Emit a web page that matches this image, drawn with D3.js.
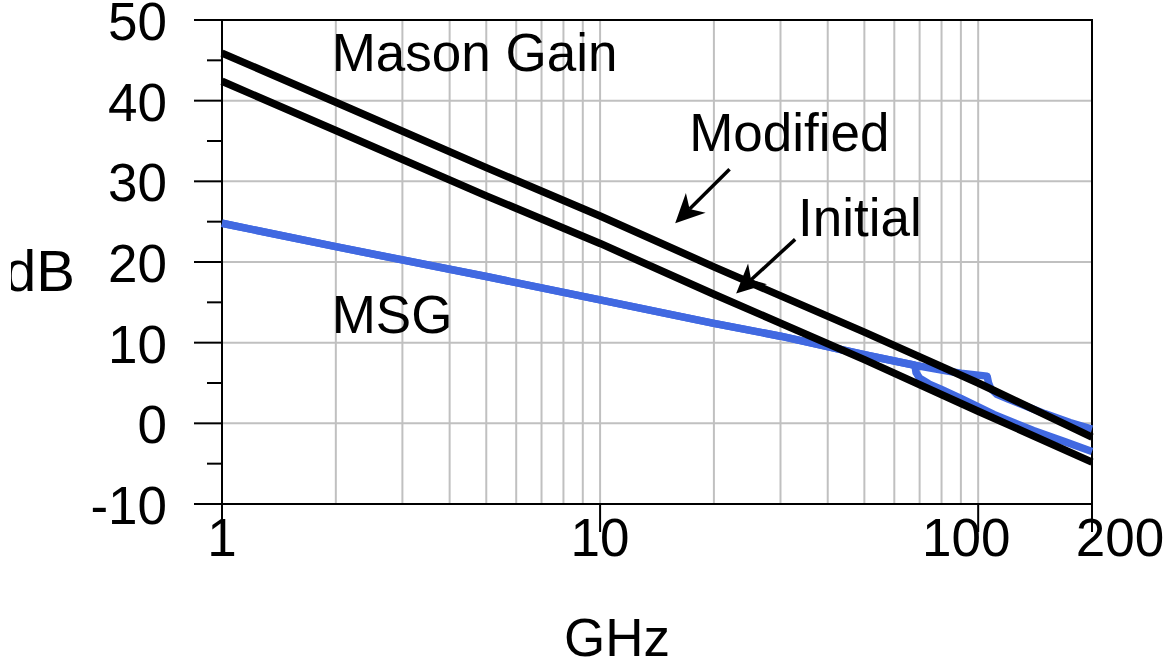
<!DOCTYPE html>
<html>
<head>
<meta charset="utf-8">
<script src="https://cdn.jsdelivr.net/npm/d3@7"></script>
<style>
  body { margin: 0; background: #fff; }
  svg { display: block; }
  text { font-family: "Liberation Sans", Arial, sans-serif; font-size: 53px; fill: #000; }
</style>
</head>
<body>
<div id="chart"></div>
<script>
// Mason's unilateral gain, straight lines (dB vs GHz)
var masonFreq = [1, 2, 5, 10, 20, 50, 100, 200];
var masonModified = [45.9, 39.8, 31.7, 25.7, 19.4, 11.3, 5.0, -1.7];
var masonInitial = [42.4, 36.3, 28.2, 22.3, 16.0, 7.9, 1.5, -4.8];

// MSG shared by both devices until the first K=1 point
var msgFreq = [1, 2, 5, 10, 20, 30, 50, 68];
var msgDb = [24.8, 21.9, 18.2, 15.3, 12.4, 10.8, 8.5, 7.2];

// initial device turns into MAG at ~68 GHz
var magInitialFreq = [68.5, 70, 74, 80, 90, 110, 140, 170, 200];
var magInitialDb = [6.3, 5.6, 4.9, 4.2, 3.1, 1.1, -0.9, -2.3, -3.5];

// modified device stays on MSG up to ~106 GHz
var msgModifiedFreq = [80, 90, 105.6];
var msgModifiedDb = [6.6, 6.2, 5.85];
var magModifiedFreq = [106.5, 108, 112, 120, 131, 150, 175, 200];
var magModifiedDb = [5.0, 4.3, 3.6, 3.0, 2.3, 1.2, 0.1, -0.7];

var xTicks = [1, 10, 100, 200];
var xGrid = [2, 3, 4, 5, 6, 7, 8, 9, 10, 20, 30, 40, 50, 60, 70, 80, 90, 100];
var yTicks = [-10, 0, 10, 20, 30, 40, 50];
var yMinor = [-5, 5, 15, 25, 35, 45];

var width = 1165, height = 665;
var margin = {top: 20, right: 73, bottom: 161, left: 222};

var x = d3.scaleLog().domain([1, 200]).range([margin.left, width - margin.right]);
var y = d3.scaleLinear().domain([-10, 50]).range([height - margin.bottom, margin.top]);

var svg = d3.select('#chart').append('svg')
  .attr('width', width)
  .attr('height', height);

svg.append('rect').attr('width', width).attr('height', height).attr('fill', '#fff');

// the y label is cut on its left side in the original
svg.append('clipPath').attr('id', 'ylabel-clip')
  .append('rect').attr('x', 11).attr('y', 0).attr('width', 200).attr('height', height);

var zip = function(fs, vs) {
  return fs.map(function(f, i) { return [f, vs[i]]; });
};

// grid
svg.append('g').selectAll('line')
  .data(xGrid)
  .enter().append('line')
  .attr('x1', function(d) { return x(d); })
  .attr('x2', function(d) { return x(d); })
  .attr('y1', y(50))
  .attr('y2', y(-10))
  .attr('stroke', '#c0c0c0')
  .attr('stroke-width', 2);

svg.append('g').selectAll('line')
  .data(yTicks.slice(1, -1))
  .enter().append('line')
  .attr('x1', x(1))
  .attr('x2', x(200))
  .attr('y1', function(d) { return y(d); })
  .attr('y2', function(d) { return y(d); })
  .attr('stroke', '#c0c0c0')
  .attr('stroke-width', 2);

// frame: top and right edges
svg.append('path')
  .attr('d', 'M' + (x(1) - 28) + ',' + y(50) + 'H' + x(200) + 'V' + y(-10))
  .attr('fill', 'none')
  .attr('stroke', '#000')
  .attr('stroke-width', 2);

// y axis
var yAxis = svg.append('g');
yAxis.append('line')
  .attr('x1', x(1)).attr('x2', x(1))
  .attr('y1', y(50)).attr('y2', y(-10) + 28)
  .attr('stroke', '#000').attr('stroke-width', 2);
yAxis.selectAll('.major')
  .data(yTicks)
  .enter().append('line')
  .attr('class', 'major')
  .attr('x1', x(1) - 28).attr('x2', x(1))
  .attr('y1', function(d) { return y(d); })
  .attr('y2', function(d) { return y(d); })
  .attr('stroke', '#000').attr('stroke-width', 2);
yAxis.selectAll('.minor')
  .data(yMinor)
  .enter().append('line')
  .attr('class', 'minor')
  .attr('x1', x(1) - 15).attr('x2', x(1))
  .attr('y1', function(d) { return y(d); })
  .attr('y2', function(d) { return y(d); })
  .attr('stroke', '#000').attr('stroke-width', 2);
yAxis.selectAll('text')
  .data(yTicks)
  .enter().append('text')
  .attr('x', x(1) - 55)
  .attr('y', function(d) { return y(d) + 20; })
  .attr('text-anchor', 'end')
  .text(function(d) { return d; });

// x axis
var xAxis = svg.append('g');
xAxis.append('line')
  .attr('x1', x(1) - 28).attr('x2', x(200))
  .attr('y1', y(-10)).attr('y2', y(-10))
  .attr('stroke', '#000').attr('stroke-width', 2);
xAxis.selectAll('line.tick')
  .data(xTicks)
  .enter().append('line')
  .attr('class', 'tick')
  .attr('x1', function(d) { return x(d); })
  .attr('x2', function(d) { return x(d); })
  .attr('y1', y(-10)).attr('y2', y(-10) + 28)
  .attr('stroke', '#000').attr('stroke-width', 2);
xAxis.selectAll('text')
  .data(xTicks)
  .enter().append('text')
  .attr('x', function(d) { return x(d) + (d === 200 ? 28 : (d === 100 ? -12 : 0)); })
  .attr('y', y(-10) + 52)
  .attr('text-anchor', 'middle')
  .text(function(d) { return d; });

svg.append('text')
  .attr('x', 617)
  .attr('y', 656)
  .attr('text-anchor', 'middle')
  .text('GHz');

svg.append('text')
  .attr('x', 75)
  .attr('y', 291)
  .attr('text-anchor', 'end')
  .attr('clip-path', 'url(#ylabel-clip)')
  .style('font-size', '58px')
  .text('dB');

// curves
var line = d3.line()
  .x(function(d) { return x(d[0]); })
  .y(function(d) { return y(d[1]); });

var blueInitial = zip(msgFreq, msgDb).concat(zip(magInitialFreq, magInitialDb));
var blueModified = zip(msgFreq, msgDb).concat(zip(msgModifiedFreq, msgModifiedDb), zip(magModifiedFreq, magModifiedDb));

var curves = svg.append('g')
  .attr('fill', 'none')
  .attr('stroke-linejoin', 'round');

[blueInitial, blueModified].forEach(function(pts) {
  curves.append('path')
    .attr('d', line(pts))
    .attr('stroke', '#4169e1')
    .attr('stroke-width', 7.5);
});

[zip(masonFreq, masonModified), zip(masonFreq, masonInitial)].forEach(function(pts) {
  curves.append('path')
    .attr('d', line(pts))
    .attr('stroke', '#000')
    .attr('stroke-width', 7.5);
});

// labels and arrows
var labels = [
  {text: 'Mason Gain', f: 1.95, v: 43.7},
  {text: 'Modified', f: 17.2, v: 33.7},
  {text: 'Initial', f: 33.4, v: 23.2},
  {text: 'MSG', f: 1.95, v: 11.2}
];
svg.append('g').selectAll('text')
  .data(labels)
  .enter().append('text')
  .attr('x', function(d) { return x(d.f); })
  .attr('y', function(d) { return y(d.v); })
  .text(function(d) { return d.text; });

var arrows = [
  {from: [22.0, 31.5], to: [15.8, 24.8]},
  {from: [32.8, 22.8], to: [22.9, 16.1]}
];

var arrowG = svg.append('g');
arrows.forEach(function(a) {
  var x0 = x(a.from[0]), y0 = y(a.from[1]);
  var x1 = x(a.to[0]), y1 = y(a.to[1]);
  var ang = Math.atan2(y1 - y0, x1 - x0);
  var len = 29, half = 14;
  var bx = x1 - len * Math.cos(ang), by = y1 - len * Math.sin(ang);
  var nx = x1 - len * 0.7 * Math.cos(ang), ny = y1 - len * 0.7 * Math.sin(ang);
  var px = -Math.sin(ang) * half, py = Math.cos(ang) * half;

  arrowG.append('line')
    .attr('x1', x0).attr('y1', y0)
    .attr('x2', nx).attr('y2', ny)
    .attr('stroke', '#000')
    .attr('stroke-width', 3.5);

  arrowG.append('path')
    .attr('d', 'M' + x1 + ',' + y1 +
      'L' + (bx + px) + ',' + (by + py) +
      'L' + nx + ',' + ny +
      'L' + (bx - px) + ',' + (by - py) + 'Z')
    .attr('fill', '#000');
});
</script>
</body>
</html>
